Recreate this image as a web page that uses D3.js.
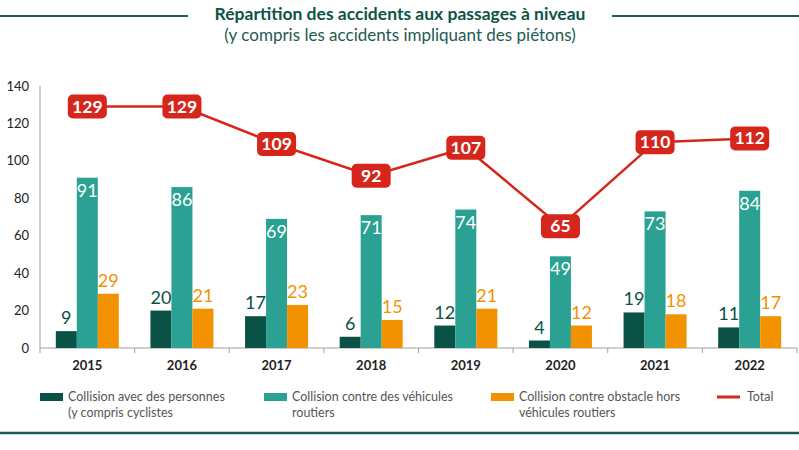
<!DOCTYPE html>
<html>
<head>
<meta charset="utf-8">
<script src="https://cdn.jsdelivr.net/npm/d3@7"></script>
<style>
  body { margin: 0; background: #fff; }
  svg { display: block; font-family: Lato, "Open Sans", sans-serif; }
</style>
</head>
<body>
<div id="plot"></div>
<script>
const years = ["2015", "2016", "2017", "2018", "2019", "2020", "2021", "2022"];
const personnes = [9, 20, 17, 6, 12, 4, 19, 11];
const vehicules = [91, 86, 69, 71, 74, 49, 73, 84];
const obstacles = [29, 21, 23, 15, 21, 12, 18, 17];
const totals = [129, 129, 109, 92, 107, 65, 110, 112];
const yTicks = [0, 20, 40, 60, 80, 100, 120, 140];

const width = 799, height = 450;
const plotLeft = 40, plotRight = 797, plotBottom = 348, plotTop = 86;

const dark = "#0a5245", teal = "#2aa192", orange = "#f39200", red = "#d6261c";

const svg = d3.select("div#plot")
  .append("svg")
    .attr("width", width)
    .attr("height", height);

// title block
svg.append("line").attr("x1", 0).attr("x2", 188).attr("y1", 16).attr("y2", 16)
  .attr("stroke", "#1d5c54").attr("stroke-width", 2);
svg.append("line").attr("x1", 612).attr("x2", width).attr("y1", 16).attr("y2", 16)
  .attr("stroke", "#1d5c54").attr("stroke-width", 2);
svg.append("text").attr("x", 400).attr("y", 20)
  .attr("text-anchor", "middle").attr("font-weight", "bold").attr("font-size", 17.5)
  .attr("fill", "#0d5446")
  .text("Répartition des accidents aux passages à niveau");
svg.append("text").attr("x", 400).attr("y", 41)
  .attr("text-anchor", "middle").attr("font-size", 17)
  .attr("fill", "#1e5c52")
  .text("(y compris les accidents impliquant des piétons)");

const x = d3.scaleBand().domain(years).range([plotLeft, plotRight]).paddingInner(0).paddingOuter(0);
const y = d3.scaleLinear().domain([0, 140]).range([plotBottom, plotTop]);

const barW = 21;
const series = [
  { values: personnes, color: dark, off: -1.5 },
  { values: vehicules, color: teal, off: -0.5 },
  { values: obstacles, color: orange, off: 0.5 }
];

// axes
svg.append("line").attr("x1", plotLeft).attr("x2", plotLeft).attr("y1", y(140)).attr("y2", plotBottom)
  .attr("stroke", "#a0a0a0").attr("stroke-width", 1);
svg.append("line").attr("x1", plotLeft).attr("x2", plotRight).attr("y1", plotBottom).attr("y2", plotBottom)
  .attr("stroke", "#a0a0a0").attr("stroke-width", 1.2);

svg.selectAll(".ytick")
  .data(yTicks)
  .join("text")
  .attr("class", "ytick")
  .attr("x", 29).attr("y", d => y(d) + 4.5)
  .attr("text-anchor", "end").attr("font-size", 13).attr("fill", "#222")
  .text(d => d);

svg.selectAll(".xsep")
  .data(years.map(d => x(d)).concat([plotRight]))
  .join("line")
  .attr("class", "xsep")
  .attr("x1", d => d).attr("x2", d => d)
  .attr("y1", plotBottom).attr("y2", plotBottom + 5)
  .attr("stroke", "#a0a0a0");

svg.selectAll(".xlab")
  .data(years)
  .join("text")
  .attr("class", "xlab")
  .attr("x", d => x(d) + x.bandwidth() / 2).attr("y", plotBottom + 22)
  .attr("text-anchor", "middle").attr("font-size", 13).attr("font-weight", "bold").attr("fill", "#222")
  .text(d => d);

// bars
series.forEach(function(s, si) {
  const cx = i => x(years[i]) + x.bandwidth() / 2 + s.off * barW;
  svg.selectAll(".bar" + si)
    .data(s.values)
    .join("rect")
    .attr("class", "bar" + si)
    .attr("x", (d, i) => cx(i))
    .attr("y", d => y(d))
    .attr("width", barW)
    .attr("height", d => plotBottom - y(d))
    .attr("fill", s.color);

  svg.selectAll(".lab" + si)
    .data(s.values)
    .join("text")
    .attr("class", "lab" + si)
    .attr("x", (d, i) => cx(i) + barW / 2)
    .attr("y", d => si === 1 ? y(d) + 19 : y(d) - 7)
    .attr("text-anchor", "middle").attr("font-size", 18)
    .attr("fill", si === 1 ? "#fff" : s.color)
    .text(d => d);
});

// total line
const cxT = i => x(years[i]) + x.bandwidth() / 2;
const line = d3.line().x((d, i) => cxT(i)).y(d => y(d));
svg.append("path").datum(totals)
  .attr("d", line).attr("fill", "none").attr("stroke", red).attr("stroke-width", 2.5);

const boxW = 39, boxH = 24;
svg.selectAll(".tbox")
  .data(totals)
  .join("rect")
  .attr("class", "tbox")
  .attr("x", (d, i) => cxT(i) - boxW / 2)
  .attr("y", d => y(d) - boxH / 2)
  .attr("width", boxW).attr("height", boxH)
  .attr("rx", 5)
  .attr("fill", red);
svg.selectAll(".tlab")
  .data(totals)
  .join("text")
  .attr("class", "tlab")
  .attr("x", (d, i) => cxT(i))
  .attr("y", d => y(d) + 6)
  .attr("text-anchor", "middle").attr("font-size", 17.5).attr("font-weight", "bold")
  .attr("fill", "#fff")
  .text(d => d);

// legend
const legend = [
  { label: ["Collision avec des personnes", "(y compris cyclistes"], color: dark, x: 40, line: false },
  { label: ["Collision contre des véhicules", "routiers"], color: teal, x: 264, line: false },
  { label: ["Collision contre obstacle hors", "véhicules routiers"], color: orange, x: 491, line: false },
  { label: ["Total"], color: red, x: 717, line: true }
];
const lg = svg.selectAll(".leg").data(legend).join("g")
  .attr("class", "leg")
  .attr("transform", d => `translate(${d.x}, 397)`);
lg.append("rect")
  .attr("x", 0).attr("y", d => d.line ? -1.5 : -4)
  .attr("width", 23).attr("height", d => d.line ? 3 : 8)
  .attr("fill", d => d.color);
lg.selectAll("text")
  .data(d => d.label.map(t => ({ t: t, dx: d.line ? 30 : 28 })))
  .join("text")
  .attr("x", d => d.dx)
  .attr("y", (d, i) => 4 + i * 15.5)
  .attr("font-size", 12.5).attr("fill", "#555")
  .text(d => d.t);

svg.append("line").attr("x1", 0).attr("x2", width).attr("y1", 433).attr("y2", 433)
  .attr("stroke", "#1d5c54").attr("stroke-width", 2.5);
</script>
</body>
</html>
